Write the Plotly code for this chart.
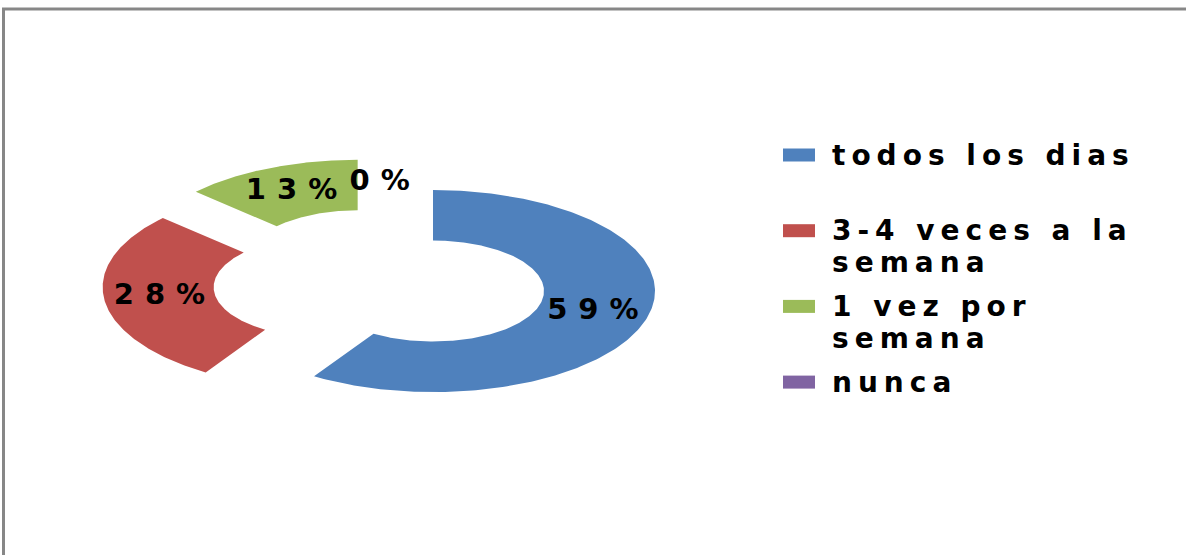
import textwrap
import numpy as np
import plotly.graph_objects as go

# Survey answers: how often?
categories = ["todos los dias", "3-4 veces a la semana", "1 vez por semana", "nunca"]
percentages = [59, 28, 13, 0]
colors = ["#4F81BD", "#C0504D", "#9BBB59", "#8064A2"]

# Canvas and ring geometry (pixels)
W, H = 1186, 555
CX, CY = 379.7, 284.0      # centre of the un-exploded ring
RX, RY = 222.0, 101.0      # outer radii (the ring is drawn as a wide ellipse)
HOLE = 0.5                 # inner radius / outer radius
EXPLODE = 0.25             # slice offset, fraction of the outer radius

FONT = "DejaVu Sans"
LABEL_SIZE = 29
LABEL_SPACING = 11
LEGEND_SIZE = 28
LEGEND_SPACING = 6


def wide(text, px):
    return f"<span style='letter-spacing:{px}px;font-weight:bold'>{text}</span>"


fig = go.Figure()

# letter-spacing also pads after the last glyph; nudge centred labels to compensate
label_nudge = 0.5 * LABEL_SPACING / RX

total = float(sum(percentages))
cum = 0.0
lab_x, lab_y, lab_t = [], [], []
for cat, val, col in zip(categories, percentages, colors):
    a0 = 2 * np.pi * cum / total
    a1 = 2 * np.pi * (cum + val) / total
    mid = 0.5 * (a0 + a1)
    ox, oy = EXPLODE * np.sin(mid), EXPLODE * np.cos(mid)
    if val > 0:
        th = np.linspace(a0, a1, 240)
        xs = np.concatenate([ox + np.sin(th), ox + HOLE * np.sin(th[::-1])])
        ys = np.concatenate([oy + np.cos(th), oy + HOLE * np.cos(th[::-1])])
        fig.add_trace(go.Scatter(
            x=xs, y=ys, mode="lines", fill="toself", fillcolor=col,
            line=dict(width=0, color=col), name=cat, showlegend=False,
            hoverinfo="skip",
        ))
    r = 0.5 * (1 + HOLE)
    lab_x.append(ox + r * np.sin(mid) + label_nudge)
    lab_y.append(oy + r * np.cos(mid))
    lab_t.append(wide(f"{val:.0f}%", LABEL_SPACING))
    cum += val

# Percentage labels in the middle of each ring segment
fig.add_trace(go.Scatter(
    x=lab_x, y=lab_y, mode="text", text=lab_t, textposition="middle center",
    textfont=dict(family=FONT, size=LABEL_SIZE, color="#000000"),
    showlegend=False, hoverinfo="skip",
))

# Legend: colour keys and wrapped category names on the right
LEG_KEY_X0, LEG_KEY_X1, LEG_KEY_H = 783, 815, 13
LEG_TEXT_X = 830
LEG_TOP, LEG_STEP, LEG_LINE = 155, 75.7, 32

shapes = []
annotations = []
for i, (cat, col) in enumerate(zip(categories, colors)):
    yc = LEG_TOP + i * LEG_STEP
    shapes.append(dict(
        type="rect", xref="paper", yref="paper",
        x0=LEG_KEY_X0 / W, x1=LEG_KEY_X1 / W,
        y0=1 - (yc - LEG_KEY_H / 2) / H, y1=1 - (yc + LEG_KEY_H / 2) / H,
        fillcolor=col, line=dict(width=0),
    ))
    for j, line in enumerate(textwrap.wrap(cat, 14)):
        annotations.append(dict(
            xref="paper", yref="paper", x=LEG_TEXT_X / W,
            y=1 - (yc + j * LEG_LINE) / H, xanchor="left", yanchor="middle",
            text=wide(line, LEGEND_SPACING), showarrow=False,
            font=dict(family=FONT, size=LEGEND_SIZE, color="#000000"),
        ))

# Chart frame: top and left edges
BORDER = "#878787"
shapes.append(dict(type="line", xref="paper", yref="paper",
                   x0=2 / W, x1=1, y0=1 - 9 / H, y1=1 - 9 / H,
                   line=dict(color=BORDER, width=3)))
shapes.append(dict(type="line", xref="paper", yref="paper",
                   x0=3.5 / W, x1=3.5 / W, y0=1 - 8 / H, y1=0,
                   line=dict(color=BORDER, width=3)))

fig.update_layout(
    width=W, height=H, margin=dict(l=0, r=0, t=0, b=0),
    paper_bgcolor="#FFFFFF", plot_bgcolor="#FFFFFF",
    xaxis=dict(range=[-CX / RX, (W - CX) / RX], visible=False, fixedrange=True),
    yaxis=dict(range=[(CY - H) / RY, CY / RY], visible=False, fixedrange=True),
    shapes=shapes, annotations=annotations,
    showlegend=False,
)

fig.write_html("out.html")
